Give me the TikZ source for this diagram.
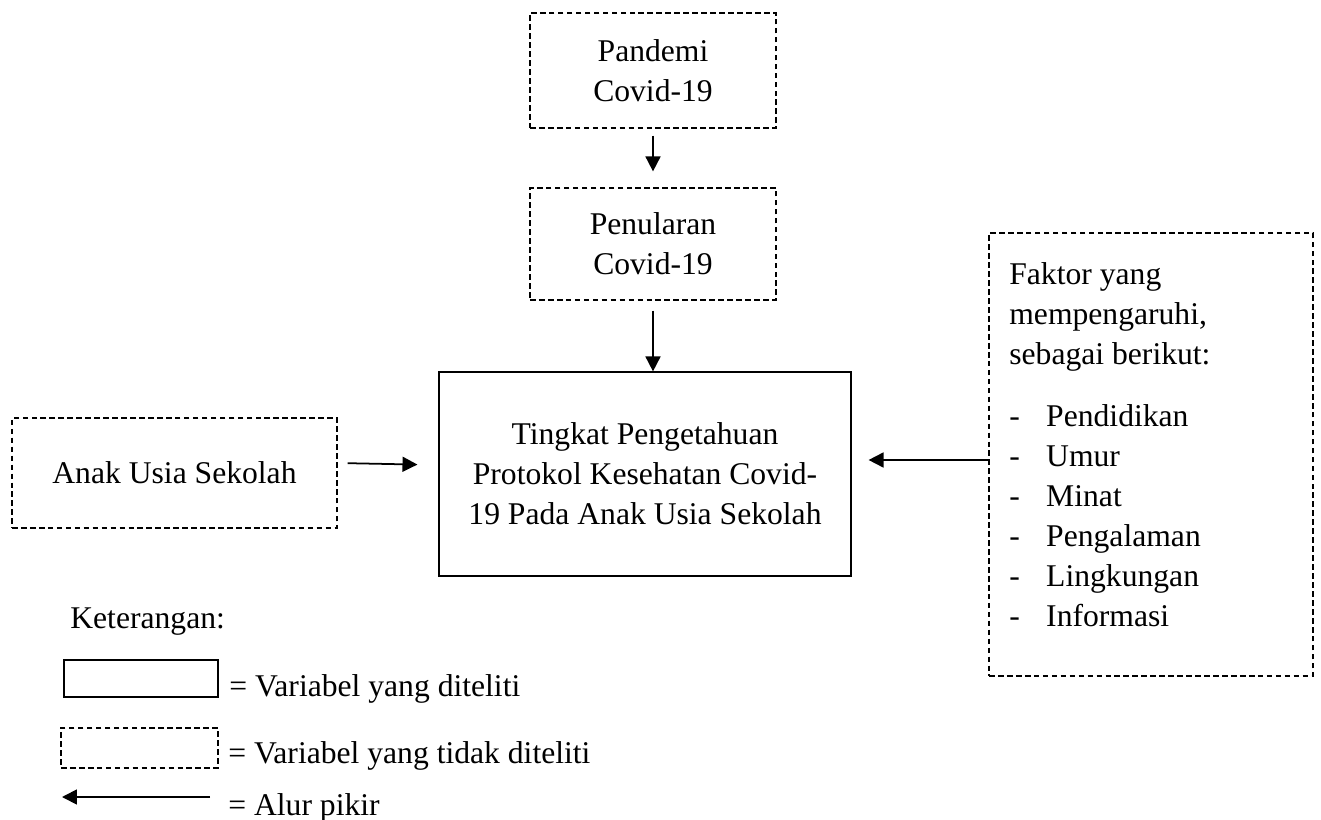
\documentclass[tikz,border=0pt]{standalone}
\usepackage{fontspec}
\setmainfont{Liberation Serif}
\usetikzlibrary{arrows.meta,positioning,calc}
\newcommand{\bfs}{\fontsize{18}{22.7}\selectfont}
\newcommand{\itm}[1]{\makebox[21pt][l]{-}#1}
\tikzset{
  var/.style={draw,line width=0.7pt,inner sep=0pt,align=center,font=\bfs},
  novar/.style={var,dash pattern=on 3.2pt off 1.9pt},
  alur/.style={-{Triangle[length=8.5pt,width=8.5pt]},line width=1pt},
  ket/.style={font=\bfs,inner sep=0pt,anchor=base west}
}

\begin{document}
\begin{tikzpicture}[x=0.02cm,y=-0.02cm]
  \useasboundingbox (0,0) rectangle (1321,820);

  \node[novar,minimum width=4.92cm,minimum height=2.3cm] (pandemi) at (653,70.5) {Pandemi\\Covid-19};
  \node[novar,minimum width=4.92cm,minimum height=2.24cm] (penularan) at (653,244) {Penularan\\Covid-19};
  \node[var,minimum width=8.24cm,minimum height=4.08cm] (main) at (645,474)
    {Tingkat Pengetahuan\\Protokol Kesehatan Covid-\\19 Pada Anak Usia Sekolah};
  \node[novar,minimum width=6.5cm,minimum height=2.2cm] (anak) at (174.5,473) {Anak Usia Sekolah};
  \node[novar,minimum width=6.48cm,minimum height=8.86cm] (faktor) at (1151,454.5) {};
  \node[font=\bfs,inner sep=0pt,align=left,anchor=north west] (faktortxt) at (1009,262)
    {Faktor yang\\mempengaruhi,\\sebagai berikut:\\[13pt]
     \itm{Pendidikan}\\\itm{Umur}\\\itm{Minat}\\\itm{Pengalaman}\\\itm{Lingkungan}\\\itm{Informasi}};

  \draw[alur,shorten <=0.14cm,shorten >=0.32cm] (pandemi) -- (penularan);
  \draw[alur,shorten <=0.2cm] (penularan.south) -- (penularan.south |- main.north);
  \draw[alur,shorten <=0.2cm,shorten >=0.42cm] ($(anak.east)+(0,-10)$) -- ($(main.west)+(0,-9)$);
  \draw[alur,shorten >=0.34cm] ($(faktor.west)+(0,5.5)$) -- ($(main.east)+(0,-14)$);

  % keterangan
  \node[ket] (ket) at (70,628) {Keterangan:};
  \node[var,minimum width=3.08cm,minimum height=0.74cm] (lvar) at (141,678.5) {};
  \node[ket] (lvartxt) at (229,696) {= Variabel yang diteliti};
  \node[novar,minimum width=3.14cm,minimum height=0.8cm] (lnovar) at (139.5,748) {};
  \node[ket] (lnovartxt) at (228,763) {= Variabel yang tidak diteliti};
  \coordinate (la) at (210,797);
  \coordinate (lb) at (62,797);
  \draw[alur] (la) -- (lb);
  \node[ket] (lalurtxt) at (228,815) {= Alur pikir};
\end{tikzpicture}
\end{document}
